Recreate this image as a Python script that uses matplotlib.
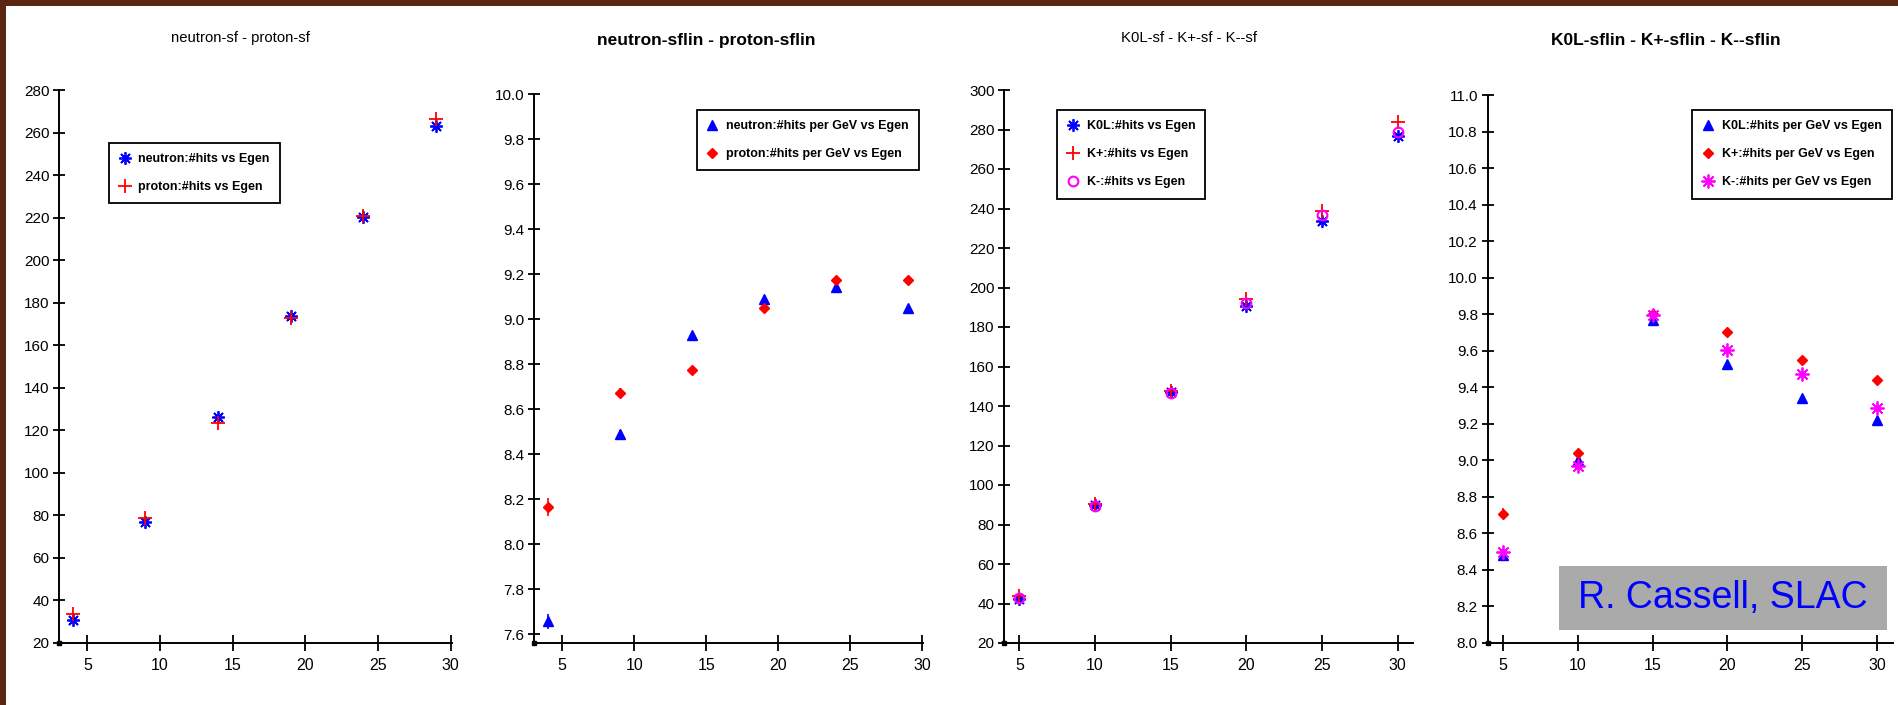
import matplotlib
matplotlib.use('Agg')
import matplotlib.pyplot as plt
from matplotlib.patches import Rectangle

W, H = 1899, 705
plt.rcParams['font.family'] = ['Liberation Sans', 'DejaVu Sans']

# ---------------- data ----------------
egen_n = [4, 9, 14, 19, 24, 29]
egen_k = [5, 10, 15, 20, 25, 30]

neutron_hits = [31.0, 76.7, 126.1, 173.7, 220.5, 263.1]
proton_hits = [33.7, 78.8, 123.6, 172.7, 220.6, 266.6]

neutron_hpg = [7.656, 8.488, 8.928, 9.09, 9.144, 9.05]
proton_hpg = [8.164, 8.674, 8.776, 9.05, 9.176, 9.174]
neutron_hpg_err = [0.035, 0.02, 0.012, 0.01, 0.01, 0.008]
proton_hpg_err = [0.04, 0.02, 0.012, 0.01, 0.01, 0.008]

k0l_hits = [42.3, 90.1, 147.0, 190.7, 233.5, 276.6]
kplus_hits = [43.9, 90.6, 147.5, 194.2, 238.5, 283.6]
kminus_hits = [42.8, 89.4, 146.8, 192.3, 236.7, 278.8]

k0l_hpg = [8.48, 9.0, 9.77, 9.527, 9.342, 9.219]
kplus_hpg = [8.707, 9.04, 9.80, 9.704, 9.552, 9.443]
kminus_hpg = [8.498, 8.968, 9.798, 9.603, 9.475, 9.286]
k0l_hpg_err = [0.015, 0.01, 0.01, 0.008, 0.008, 0.008]
kplus_hpg_err = [0.03, 0.015, 0.01, 0.008, 0.008, 0.008]
kminus_hpg_err = [0.015, 0.01, 0.01, 0.008, 0.008, 0.008]

titles = ["neutron-sf - proton-sf", "neutron-sflin - proton-sflin",
          "K0L-sf - K+-sf - K--sf", "K0L-sflin - K+-sflin - K--sflin"]
title_bold = [False, True, False, True]

yticks1 = list(range(20, 281, 20))
yticks2 = [7.6 + 0.2 * i for i in range(13)]
yticks3 = list(range(20, 301, 20))
yticks4 = [8.0 + 0.2 * i for i in range(16)]
xticks = [5, 10, 15, 20, 25, 30]

fig = plt.figure(figsize=(W / 100, H / 100), dpi=100)
fig.patch.set_facecolor('#5a2512')
fig.add_artist(Rectangle((6 / W, 0), 1, 1 - 5.5 / H, transform=fig.transFigure,
                         facecolor='white', edgecolor='none', zorder=0))

STAR = (8, 2, 0)


def make_axes(l, t, r, b, xlim, ylim, yticks, yfmt):
    ax = fig.add_axes([l / W, 1 - b / H, (r - l) / W, (b - t) / H])
    ax.set_facecolor('none')
    for s in ['top', 'right']:
        ax.spines[s].set_visible(False)
    for s in ['left', 'bottom']:
        ax.spines[s].set_linewidth(1.4)
        ax.spines[s].set_color('black')
    ax.set_xlim(*xlim)
    ax.set_ylim(*ylim)
    ax.set_xticks(xticks)
    ax.set_yticks(yticks)
    ax.set_yticklabels([yfmt.format(v) for v in yticks])
    ax.tick_params(axis='x', direction='inout', length=12, width=1.3,
                   labelsize=11.5, pad=4.5)
    ax.tick_params(axis='y', direction='inout', length=9, width=1.3,
                   labelsize=11, pad=2.5)
    ax.plot([xlim[0]], [ylim[0]], marker='s', color='black', ms=2.5,
            clip_on=False, zorder=5)
    return ax


def add_legend(ax, x, y):
    leg = ax.legend(loc='upper left', bbox_to_anchor=(x / W, 1 - y / H),
                    bbox_transform=fig.transFigure, borderaxespad=0,
                    fancybox=False, edgecolor='black', framealpha=1,
                    prop={'weight': 'bold', 'size': 9}, handlelength=0.9,
                    handletextpad=0.65, borderpad=0.8, labelspacing=1.3,
                    numpoints=1)
    leg.get_frame().set_linewidth(1.3)
    return leg


# Panel 1
ax1 = make_axes(59.3, 90, 451.7, 643, (3.07, 30.07), (20, 280), yticks1, '{:d}')
ax1.plot(egen_n, neutron_hits, ls='none', marker=STAR, color='blue', ms=9,
         mew=1.3, label='neutron:#hits vs Egen', clip_on=False)
ax1.plot(egen_n, proton_hits, ls='none', marker='+', color='red', ms=10,
         mew=1.3, label='proton:#hits vs Egen', clip_on=False)
add_legend(ax1, 109, 143)

# Panel 2
ax2 = make_axes(534, 94.4, 923.3, 643, (3.035, 30.07), (7.56, 10.0), yticks2, '{:.1f}')
ax2.errorbar(egen_n, neutron_hpg, yerr=neutron_hpg_err, fmt='none', ecolor='blue', elinewidth=1.2)
ax2.errorbar(egen_n, proton_hpg, yerr=proton_hpg_err, fmt='none', ecolor='red', elinewidth=1.2)
ax2.plot(egen_n, neutron_hpg, ls='none', marker='^', color='blue', ms=6.5,
         label='neutron:#hits per GeV vs Egen', clip_on=False)
ax2.plot(egen_n, proton_hpg, ls='none', marker='D', color='red', ms=5,
         label='proton:#hits per GeV vs Egen', clip_on=False)
add_legend(ax2, 696.7, 110)

# Panel 3
ax3 = make_axes(1004.3, 90, 1412.7, 643, (4.0, 31.0), (20, 300), yticks3, '{:d}')
ax3.plot(egen_k, k0l_hits, ls='none', marker=STAR, color='blue', ms=9,
         mew=1.3, label='K0L:#hits vs Egen', clip_on=False)
ax3.plot(egen_k, kplus_hits, ls='none', marker='+', color='red', ms=10,
         mew=1.3, label='K+:#hits vs Egen', clip_on=False)
ax3.plot(egen_k, kminus_hits, ls='none', marker='o', mfc='none', mec='magenta',
         ms=7, mew=1.5, label='K-:#hits vs Egen', clip_on=False)
add_legend(ax3, 1057.3, 110)

# Panel 4
ax4 = make_axes(1487.7, 95.3, 1892.7, 643, (4.0, 31.03), (8.0, 11.0), yticks4, '{:.1f}')
ax4.errorbar(egen_k, k0l_hpg, yerr=k0l_hpg_err, fmt='none', ecolor='blue', elinewidth=1.2)
ax4.errorbar(egen_k, kplus_hpg, yerr=kplus_hpg_err, fmt='none', ecolor='red', elinewidth=1.2)
ax4.errorbar(egen_k, kminus_hpg, yerr=kminus_hpg_err, fmt='none', ecolor='magenta', elinewidth=1.2)
ax4.plot(egen_k, k0l_hpg, ls='none', marker='^', color='blue', ms=6.5,
         label='K0L:#hits per GeV vs Egen', clip_on=False)
ax4.plot(egen_k, kplus_hpg, ls='none', marker='D', color='red', ms=5,
         label='K+:#hits per GeV vs Egen', clip_on=False)
ax4.plot(egen_k, kminus_hpg, ls='none', marker=STAR, color='magenta', ms=10,
         mew=1.3, label='K-:#hits per GeV vs Egen', clip_on=False)
add_legend(ax4, 1692.3, 110)

# Titles
title_pos = [(240, 38), (706.7, 40.5), (1189, 38), (1665.7, 40.5)]
for (tx, ty), t, b in zip(title_pos, titles, title_bold):
    fig.text(tx / W, 1 - ty / H, t, ha='center', va='center',
             fontsize=12.5 if b else 10.7, fontweight='bold' if b else 'normal')

# Watermark
fig.add_artist(Rectangle((1559 / W, 1 - 630.4 / H), (1886.7 - 1559) / W,
                         (630.4 - 565.6) / H, transform=fig.transFigure,
                         facecolor='#aaaaaa', edgecolor='none', zorder=6))
fig.text(1722.9 / W, 1 - 598 / H, 'R. Cassell, SLAC', ha='center', va='center',
         fontsize=27, color='blue', zorder=7)

fig.savefig('out.png', dpi=100, facecolor=fig.get_facecolor())
